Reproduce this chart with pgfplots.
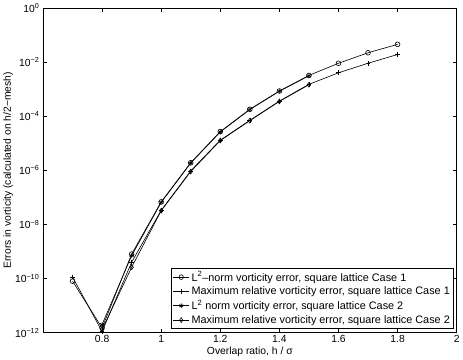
\documentclass[border=0pt]{standalone}
\usepackage{fontspec}
\setmainfont{Liberation Sans}
\usepackage{pgfplots}
\pgfplotsset{compat=1.18}
\begin{document}
\begin{tikzpicture}
\begin{axis}[
  scale only axis,
  width=400pt, height=314pt,
  ymode=log,
  xmin=0.6, xmax=2, ymin=1e-12, ymax=1,
  xtick={0.8,1,1.2,1.4,1.6,1.8,2},
  xticklabels={0.8,1,1.2,1.4,1.6,1.8,2},
  ytick={1e-12,1e-10,1e-8,1e-6,1e-4,1e-2,1},
  yticklabels={10\textsuperscript{−12},10\textsuperscript{−10},10\textsuperscript{−8},10\textsuperscript{−6},10\textsuperscript{−4},10\textsuperscript{−2},10\textsuperscript{0}},
  minor ytick={},
  tick align=inside,
  major tick length=4pt,
  tick style={black, line width=0.5pt},
  ticklabel style={font=\fontsize{10}{11}\selectfont},
  xticklabel style={yshift=1pt},
  xlabel={Overlap ratio, h / σ},
  ylabel={Errors in vorticity (calculated on h/2−mesh)},
  label style={font=\fontsize{10}{11}\selectfont},
  xlabel style={yshift=3pt},
  ylabel style={yshift=-5pt},
  axis line style={line width=0.6pt},
  legend cell align=left,
  legend image post style={xscale=0.9},
  legend style={font=\fontsize{10.5}{12}\selectfont, draw=black, line width=0.6pt, inner sep=1.5pt, row sep=0pt, at={(0.993,0.012)}, anchor=south east},
  every axis plot/.append style={black, line width=0.6pt, mark size=2.3pt},
]
\addplot[mark=o] coordinates {
 (0.7,8e-11) (0.8,1.5e-12) (0.9,8e-10) (1.0,6.8e-8) (1.1,1.9e-6) (1.2,2.7e-5)
 (1.3,1.8e-4) (1.4,8.5e-4) (1.5,3.2e-3) (1.6,9e-3) (1.7,2.2e-2) (1.8,4.5e-2)};
\addlegendentry{L\textsuperscript{2}–norm vorticity error, square lattice Case 1}
\addplot[mark=+] coordinates {
 (0.7,1.15e-10) (0.8,1.1e-12) (0.9,4e-10) (1.0,3.3e-8) (1.1,9.5e-7) (1.2,1.3e-5)
 (1.3,7e-5) (1.4,3.6e-4) (1.5,1.5e-3) (1.6,4e-3) (1.7,9e-3) (1.8,1.9e-2)};
\addlegendentry{Maximum relative vorticity error, square lattice Case 1}
\addplot[mark=asterisk] coordinates {
 (0.8,2e-12) (0.9,7e-10) (1.0,6.5e-8) (1.1,1.85e-6) (1.2,2.6e-5)
 (1.3,1.75e-4) (1.4,8.3e-4) (1.5,3.1e-3)};
\addlegendentry{L\textsuperscript{2} norm vorticity error, square lattice Case 2}
\addplot[mark=diamond] coordinates {
 (0.8,1.3e-12) (0.9,2.6e-10) (1.0,3.2e-8) (1.1,9e-7) (1.2,1.25e-5)
 (1.3,6.8e-5) (1.4,3.5e-4) (1.5,1.45e-3)};
\addlegendentry{Maximum relative vorticity error, square lattice Case 2}
\end{axis}
\end{tikzpicture}
\end{document}
